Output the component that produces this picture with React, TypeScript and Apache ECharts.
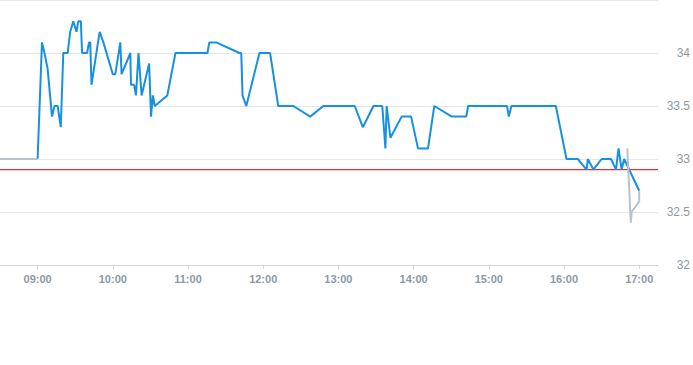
import React, { useEffect, useRef } from "react";
import * as echarts from "echarts";

// minutes since midnight
const blueTimes = [
  540, 543.5, 545.5, 548, 551.5, 553.5, 556, 558.5, 560.5, 564,
  566, 568.5, 571, 572.5, 574.5, 575.5, 579.5, 581, 582, 583,
  589.5, 592.5, 600, 602, 606, 607, 614, 614.5, 617, 618.5,
  620.5, 623, 629, 630.5, 632, 633.5, 643.5, 650, 675.5, 677,
  682.5, 701, 702.5, 703.5, 706.5, 717, 725.5, 732, 744, 757.5,
  768, 793, 799.5, 808, 815, 817.5, 818.5, 821.5, 830.5, 838,
  843.5, 851.5, 856.5, 870.5, 882, 883.5, 914.5, 916, 918, 953.5,
  962, 971, 978, 979, 983.5, 990, 997.5, 1001.5, 1003.5, 1006,
  1008, 1020,
];
const blueValues = [
  33.0, 34.1, 34.0, 33.85, 33.4, 33.5, 33.5, 33.3, 34.0, 34.0,
  34.2, 34.3, 34.2, 34.3, 34.3, 34.0, 34.0, 34.1, 34.1, 33.7,
  34.2, 34.1, 33.8, 33.8, 34.1, 33.8, 34.0, 33.7, 33.7, 33.6,
  34.0, 33.6, 33.9, 33.4, 33.6, 33.5, 33.6, 34.0, 34.0, 34.1,
  34.1, 34.0, 34.0, 33.6, 33.5, 34.0, 34.0, 33.5, 33.5, 33.4,
  33.5, 33.5, 33.3, 33.5, 33.5, 33.1, 33.5, 33.2, 33.4, 33.4,
  33.1, 33.1, 33.5, 33.4, 33.4, 33.5, 33.5, 33.4, 33.5, 33.5,
  33.0, 33.0, 32.9, 33.0, 32.9, 33.0, 33.0, 32.9, 33.1, 32.9,
  33.0, 32.7,
];

const grayPreTimes = [510, 540];
const grayPreValues = [33.0, 33.0];
const grayPostTimes = [1010.5, 1013.3, 1014, 1020, 1020];
const grayPostValues = [33.1, 32.4, 32.5, 32.6, 32.7];

const referenceLevel = 32.9;
const axisStart = 510; // 08:30
const axisEnd = 1035; // 17:15
const hourTicks = [540, 600, 660, 720, 780, 840, 900, 960, 1020];

const zip = (t: number[], v: number[]) => t.map((x, i) => [x, v[i]]);
const fmt = (m: number) => {
  const h = Math.floor(m / 60);
  const mm = Math.round(m % 60);
  return String(h).padStart(2, "0") + ":" + String(mm).padStart(2, "0");
};

export default function App() {
  const ref = useRef<HTMLDivElement>(null);
  useEffect(() => {
    if (!ref.current) return;
    const chart = echarts.init(ref.current, undefined, { renderer: "svg" });
    chart.setOption({
      animation: false,
      grid: { left: 0, right: 29, top: 0, bottom: 100 },
      xAxis: {
        type: "value",
        min: axisStart,
        max: axisEnd,
        axisLine: { show: true, lineStyle: { color: "#cfd6dd" } },
        axisTick: { show: true, customValues: hourTicks, length: 4, lineStyle: { color: "#cfd6dd" } },
        axisLabel: {
          customValues: hourTicks,
          formatter: (v: number) => fmt(v),
          color: "#8e99a5",
          fontSize: 11,
          fontWeight: "bold",
          fontFamily: "Liberation Sans, Arial, sans-serif",
          margin: 8,
        },
        splitLine: { show: false },
      },
      yAxis: {
        type: "value",
        position: "right",
        min: 32,
        max: 34.5,
        interval: 0.5,
        axisLine: { show: false },
        axisTick: { show: false },
        axisLabel: {
          showMaxLabel: false,
          align: "right",
          margin: 32,
          color: "#8e99a5",
          fontSize: 12,
          fontFamily: "Liberation Sans, Arial, sans-serif",
        },
        splitLine: { lineStyle: { color: "#e3e7eb" } },
      },
      series: [
        {
          type: "line",
          data: [
            [axisStart, referenceLevel],
            [axisEnd, referenceLevel],
          ],
          showSymbol: false,
          silent: true,
          z: 1,
          lineStyle: { color: "#e8302c", width: 1.2 },
          itemStyle: { color: "#e8302c" },
        },
        {
          type: "line",
          data: zip(blueTimes, blueValues),
          showSymbol: false,
          z: 2,
          lineStyle: { color: "#1890e0", width: 2 },
          itemStyle: { color: "#1890e0" },
        },
        {
          type: "line",
          data: zip(grayPreTimes, grayPreValues),
          showSymbol: false,
          z: 3,
          lineStyle: { color: "#b7c3cd", width: 2 },
          itemStyle: { color: "#b7c3cd" },
        },
        {
          type: "line",
          data: zip(grayPostTimes, grayPostValues),
          showSymbol: false,
          z: 3,
          lineStyle: { color: "#b7c3cd", width: 2 },
          itemStyle: { color: "#b7c3cd" },
        },
      ],
    });
    return () => chart.dispose();
  }, []);
  return (
    <div
      ref={ref}
      style={{ position: "absolute", left: 0, top: 0, width: 693, height: 365 }}
    />
  );
}
